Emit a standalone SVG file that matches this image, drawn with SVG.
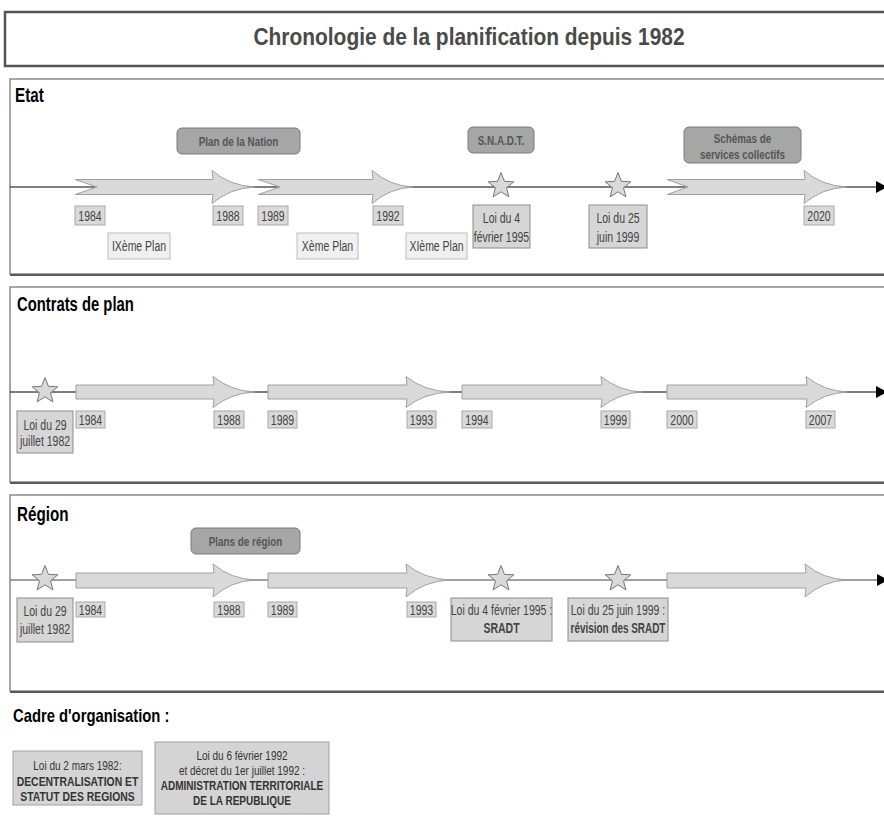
<svg xmlns="http://www.w3.org/2000/svg" xmlns:xlink="http://www.w3.org/1999/xlink" width="884" height="819" viewBox="0 0 884 819">
<style>
text{font-family:"Liberation Sans",Arial,sans-serif;}
.sec{fill:#fff;stroke:#8a8a8a;stroke-width:1.5;}
.shadow{stroke:#5a5a5a;stroke-width:2;}
.h{font-weight:bold;fill:#000;font-size:19.5px;}
.arr{fill:#d9d9d9;stroke:#a0a0a0;stroke-width:1;}
.star{fill:#d9d9d9;stroke:#777;stroke-width:1;}
.yr{fill:#d9d9d9;stroke:#a8a8a8;stroke-width:1;}
.yt{font-size:14px;fill:#444;text-anchor:middle;}
.pl{fill:#f0f0f0;stroke:#bdbdbd;stroke-width:1;}
.loi{fill:#d6d6d6;stroke:#8c8c8c;stroke-width:1;}
.hdr{fill:#a6a6a6;stroke:#7a7a7a;stroke-width:1;}
.ht{font-size:13px;font-weight:bold;fill:#555;text-anchor:middle;}
.b{font-weight:bold;}
.org{fill:#d4d4d4;stroke:#a0a0a0;stroke-width:1;}
.ot{font-size:13px;fill:#333;text-anchor:middle;}
</style>
<defs>
<path id="star" class="star" d="M0,-13.5 L3.41,-4.69 L12.84,-4.17 L5.52,1.79 L7.94,10.92 L0,5.8 L-7.94,10.92 L-5.52,1.79 L-12.84,-4.17 L-3.41,-4.69 Z"/>
<marker id="end" markerWidth="10" markerHeight="12" refX="1" refY="6" orient="auto" markerUnits="userSpaceOnUse">
<path d="M0,0 L11,6 L0,12 Z" fill="#000"/>
</marker>
</defs>
<rect width="884" height="819" fill="#fff"/>

<!-- Title -->
<g id="title">
<rect x="5" y="12" width="900" height="54" fill="#fff" stroke="#555" stroke-width="2.5"/>
<text transform="translate(469,45) scale(0.91,1)" font-size="23" font-weight="bold" fill="#4a4a4a" text-anchor="middle">Chronologie de la planification depuis 1982</text>
</g>

<!-- Sections -->
<g id="sec-etat">
<rect class="sec" x="10" y="79" width="900" height="195"/>
<line class="shadow" x1="10" y1="275" x2="884" y2="275"/>
<text class="h" transform="translate(15,102) scale(0.78,1)">Etat</text>
</g>
<g id="sec-contrats">
<rect class="sec" x="10" y="287" width="900" height="195"/>
<line class="shadow" x1="10" y1="483" x2="884" y2="483"/>
<text class="h" transform="translate(17,311) scale(0.76,1)">Contrats de plan</text>
</g>
<g id="sec-region">
<rect class="sec" x="10" y="495" width="900" height="196"/>
<line class="shadow" x1="10" y1="692" x2="884" y2="692"/>
<text class="h" transform="translate(17,521) scale(0.78,1)">Région</text>
</g>

<!-- Connectors (timelines) -->
<g id="connectors">
<line x1="10" y1="187" x2="877" y2="187" stroke="#000" stroke-width="1.2" marker-end="url(#end)"/>
<line x1="10" y1="392" x2="877" y2="392" stroke="#000" stroke-width="1.2" marker-end="url(#end)"/>
<line x1="10" y1="580" x2="877" y2="580" stroke="#808080" stroke-width="1.5"/>
<path d="M877,574 L888,580 L877,586 Z" fill="#000"/>
</g>

<!-- Etat arrows -->
<g id="etat-arrows">
<path class="arr" d="M75,179.5 H213 L212,170.5 Q230,186 255,187 Q230,188 212,203.5 L213,194.5 H75 L97,187 Z"/>
<path class="arr" d="M258,179.5 H373 L372,170.5 Q390,186 413,187 Q390,188 372,203.5 L373,194.5 H258 L280,187 Z"/>
<path class="arr" d="M667,179.5 H805 L804,170.5 Q822,186 847,187 Q822,188 804,203.5 L805,194.5 H667 L688,187 Z"/>
</g>

<!-- Contrats arrows -->
<g id="contrats-arrows">
<path class="arr" d="M76,385 H214 L213,376.5 Q231,391 255,392 Q231,393 213,407.5 L214,399 H76 Z"/>
<path class="arr" d="M268,385 H407 L406,376.5 Q424,391 450,392 Q424,393 406,407.5 L407,399 H268 Z"/>
<path class="arr" d="M462,385 H602 L601,376.5 Q619,391 642,392 Q619,393 601,407.5 L602,399 H462 Z"/>
<path class="arr" d="M667,385 H807 L806,376.5 Q824,391 847,392 Q824,393 806,407.5 L807,399 H667 Z"/>
</g>

<!-- Region arrows -->
<g id="region-arrows">
<path class="arr" d="M76,573 H214 L213,564 Q231,579 255,580 Q231,581 213,597 L214,588 H76 Z"/>
<path class="arr" d="M268,573 H407 L406,564 Q424,579 450,580 Q424,581 406,597 L407,588 H268 Z"/>
<path class="arr" d="M667,573 H806 L805,564 Q823,579 847,580 Q823,581 805,597 L806,588 H667 Z"/>
</g>

<!-- Etat nodes -->
<g id="plan-nation"><rect class="hdr" x="177" y="128" width="123" height="26" rx="5"/><text class="ht" transform="translate(238.5,146) scale(0.76,1)">Plan de la Nation</text></g>
<g id="snadt"><rect class="hdr" x="468" y="127" width="66" height="26" rx="5"/><text class="ht" transform="translate(501,145) scale(0.76,1)">S.N.A.D.T.</text></g>
<g id="schemas"><rect class="hdr" x="684" y="127" width="117" height="36" rx="5"/><text class="ht" transform="translate(742.5,143) scale(0.76,1)">Schémas de</text><text class="ht" transform="translate(742.5,159) scale(0.76,1)">services collectifs</text></g>

<g id="e-1984"><rect class="yr" x="75" y="206" width="30" height="19"/><text class="yt" transform="translate(90,221) scale(0.75,1)">1984</text></g>
<g id="e-1988"><rect class="yr" x="213" y="206" width="30" height="19"/><text class="yt" transform="translate(228,221) scale(0.75,1)">1988</text></g>
<g id="e-1989"><rect class="yr" x="258" y="206" width="30" height="19"/><text class="yt" transform="translate(273,221) scale(0.75,1)">1989</text></g>
<g id="e-1992"><rect class="yr" x="373" y="206" width="30" height="19"/><text class="yt" transform="translate(388,221) scale(0.75,1)">1992</text></g>
<g id="e-2020"><rect class="yr" x="804" y="206" width="30" height="19"/><text class="yt" transform="translate(819,221) scale(0.75,1)">2020</text></g>

<g id="ix-plan"><rect class="pl" x="108" y="233" width="62" height="26"/><text class="yt" transform="translate(139,251) scale(0.75,1)">IXème Plan</text></g>
<g id="x-plan"><rect class="pl" x="297" y="233" width="61" height="26"/><text class="yt" transform="translate(327.5,251) scale(0.75,1)">Xème Plan</text></g>
<g id="xi-plan"><rect class="pl" x="406" y="233" width="61" height="26"/><text class="yt" transform="translate(436.5,251) scale(0.75,1)">XIème Plan</text></g>

<g id="e-star-1995"><use xlink:href="#star" x="501" y="186"/></g>
<g id="e-star-1999"><use xlink:href="#star" x="618" y="186"/></g>
<g id="e-loi-1995"><rect class="loi" x="473" y="205" width="57" height="43"/><text class="yt" transform="translate(501.5,223) scale(0.75,1)">Loi du 4</text><text class="yt" transform="translate(501.5,242) scale(0.75,1)">février 1995</text></g>
<g id="e-loi-1999"><rect class="loi" x="589" y="205" width="58" height="43"/><text class="yt" transform="translate(618,223) scale(0.75,1)">Loi du 25</text><text class="yt" transform="translate(618,242) scale(0.75,1)">juin 1999</text></g>

<!-- Contrats nodes -->
<g id="c-star-1982"><use xlink:href="#star" x="45" y="391"/></g>
<g id="c-loi-1982"><rect class="loi" x="17" y="411" width="56" height="42"/><text class="yt" transform="translate(45,430) scale(0.75,1)">Loi du 29</text><text class="yt" transform="translate(45,446) scale(0.75,1)">juillet 1982</text></g>
<g id="c-1984"><rect class="yr" x="76" y="411" width="29" height="17"/><text class="yt" transform="translate(90.5,424.5) scale(0.75,1)">1984</text></g>
<g id="c-1988"><rect class="yr" x="214" y="411" width="30" height="17"/><text class="yt" transform="translate(229,424.5) scale(0.75,1)">1988</text></g>
<g id="c-1989"><rect class="yr" x="268" y="411" width="29" height="17"/><text class="yt" transform="translate(282.5,424.5) scale(0.75,1)">1989</text></g>
<g id="c-1993"><rect class="yr" x="407" y="411" width="29" height="17"/><text class="yt" transform="translate(421.5,424.5) scale(0.75,1)">1993</text></g>
<g id="c-1994"><rect class="yr" x="462" y="411" width="30" height="17"/><text class="yt" transform="translate(477,424.5) scale(0.75,1)">1994</text></g>
<g id="c-1999"><rect class="yr" x="601" y="411" width="29" height="17"/><text class="yt" transform="translate(615.5,424.5) scale(0.75,1)">1999</text></g>
<g id="c-2000"><rect class="yr" x="667" y="411" width="30" height="17"/><text class="yt" transform="translate(682,424.5) scale(0.75,1)">2000</text></g>
<g id="c-2007"><rect class="yr" x="806" y="411" width="29" height="17"/><text class="yt" transform="translate(820.5,424.5) scale(0.75,1)">2007</text></g>

<!-- Region nodes -->
<g id="plans-region"><rect class="hdr" x="191" y="528" width="109" height="26" rx="5"/><text class="ht" transform="translate(245.5,546) scale(0.76,1)">Plans de région</text></g>
<g id="r-star-1982"><use xlink:href="#star" x="45" y="579"/></g>
<g id="r-loi-1982"><rect class="loi" x="17" y="598" width="56" height="44"/><text class="yt" transform="translate(45,616) scale(0.75,1)">Loi du 29</text><text class="yt" transform="translate(45,634) scale(0.75,1)">juillet 1982</text></g>
<g id="r-1984"><rect class="yr" x="76" y="602" width="29" height="15"/><text class="yt" transform="translate(90.5,614.5) scale(0.75,1)">1984</text></g>
<g id="r-1988"><rect class="yr" x="214" y="602" width="30" height="15"/><text class="yt" transform="translate(229,614.5) scale(0.75,1)">1988</text></g>
<g id="r-1989"><rect class="yr" x="268" y="602" width="29" height="15"/><text class="yt" transform="translate(282.5,614.5) scale(0.75,1)">1989</text></g>
<g id="r-1993"><rect class="yr" x="407" y="602" width="29" height="15"/><text class="yt" transform="translate(421.5,614.5) scale(0.75,1)">1993</text></g>
<g id="r-star-1995"><use xlink:href="#star" x="501" y="579"/></g>
<g id="r-star-1999"><use xlink:href="#star" x="618" y="579"/></g>
<g id="r-loi-1995"><rect class="loi" x="451" y="598" width="101" height="43"/><text class="yt" transform="translate(501.5,615) scale(0.75,1)">Loi du 4 février 1995 :</text><text class="yt b" transform="translate(501.5,633) scale(0.75,1)">SRADT</text></g>
<g id="r-loi-1999"><rect class="loi" x="568" y="598" width="100" height="43"/><text class="yt" transform="translate(618,615) scale(0.75,1)">Loi du 25 juin 1999 :</text><text class="yt b" transform="translate(618,633) scale(0.71,1)">révision des SRADT</text></g>

<!-- Cadre d'organisation -->
<text class="h" transform="translate(13,722) scale(0.8,1)" style="font-size:18.5px">Cadre d'organisation :</text>
<g id="org-1982"><rect class="org" x="13" y="751" width="129" height="54"/>
<text class="ot" transform="translate(77.5,770) scale(0.77,1)">Loi du 2 mars 1982:</text>
<text class="ot b" transform="translate(77.5,785.5) scale(0.8,1)">DECENTRALISATION ET</text>
<text class="ot b" transform="translate(77.5,801) scale(0.8,1)">STATUT DES REGIONS</text></g>
<g id="org-1992"><rect class="org" x="155" y="742" width="174" height="72"/>
<text class="ot" transform="translate(242,760) scale(0.77,1)">Loi du 6 février 1992</text>
<text class="ot" transform="translate(242,775) scale(0.77,1)">et décret du 1er juillet 1992 :</text>
<text class="ot b" transform="translate(242,790) scale(0.77,1)">ADMINISTRATION TERRITORIALE</text>
<text class="ot b" transform="translate(242,805) scale(0.77,1)">DE LA REPUBLIQUE</text></g>
</svg>
